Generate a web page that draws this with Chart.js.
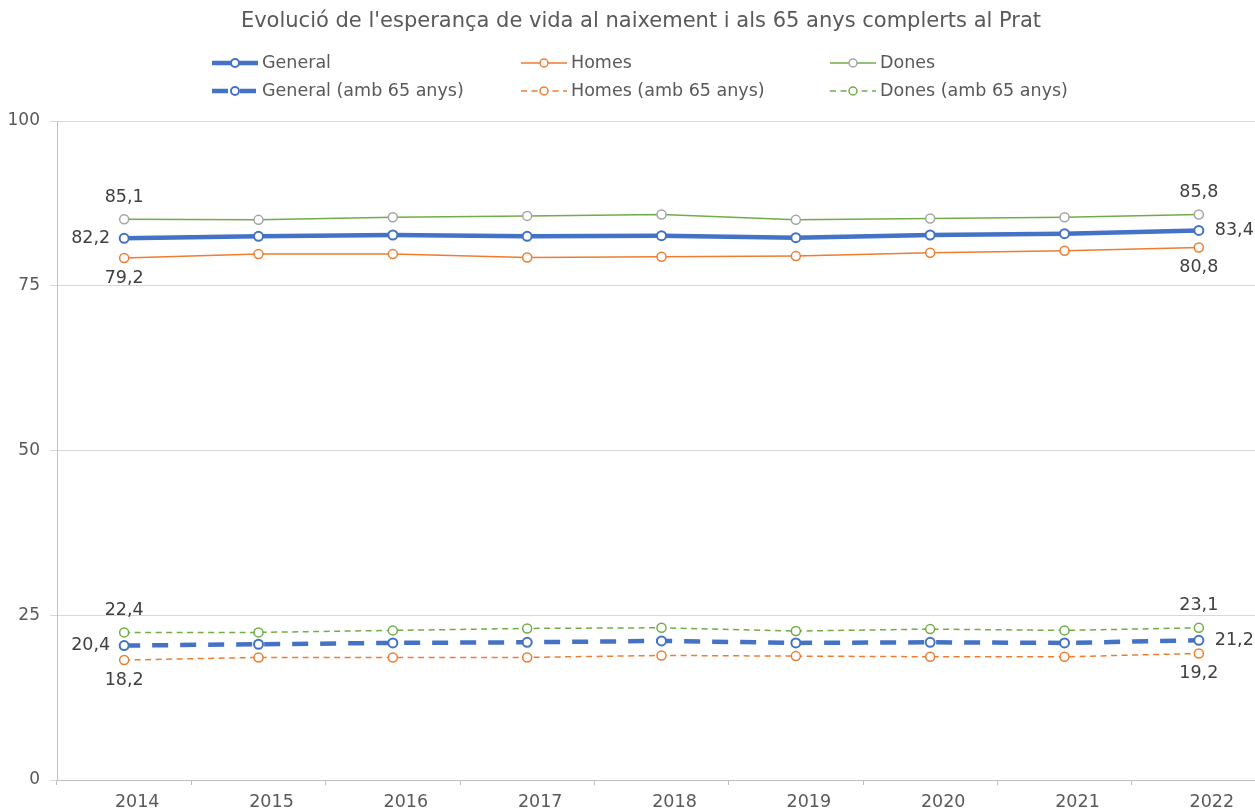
<!DOCTYPE html>
<html>
<head>
<meta charset="utf-8">
<script src="https://cdn.jsdelivr.net/npm/chart.js@4/dist/chart.umd.min.js"></script>
<style>
  html, body { margin: 0; padding: 0; background: #fff; overflow: hidden; }
  #wrap { width: 1282px; height: 812px; }
</style>
</head>
<body>
<div id="wrap"><canvas id="vidaChart" width="1282" height="812"></canvas></div>
<script>
const chartTitle = "Evolució de l'esperança de vida al naixement i als 65 anys complerts al Prat";
const years = ['2014', '2015', '2016', '2017', '2018', '2019', '2020', '2021', '2022'];
const general = [82.2, 82.5, 82.7, 82.5, 82.6, 82.3, 82.7, 82.9, 83.4];
const homes = [79.2, 79.8, 79.8, 79.3, 79.4, 79.5, 80.0, 80.3, 80.8];
const dones = [85.1, 85.0, 85.4, 85.6, 85.8, 85.0, 85.2, 85.4, 85.8];
const general65 = [20.4, 20.6, 20.8, 20.9, 21.1, 20.8, 20.9, 20.8, 21.2];
const homes65 = [18.2, 18.6, 18.6, 18.6, 18.9, 18.8, 18.7, 18.7, 19.2];
const dones65 = [22.4, 22.4, 22.7, 23.0, 23.1, 22.6, 22.9, 22.7, 23.1];
const yTicks = [0, 25, 50, 75, 100];

const FONT = 'DejaVu Sans';
const TEXT = '#595959';
const BLUE = '#4472C4', ORANGE = '#ED7D31', GREEN = '#70AD47', GREY = '#A5A5A5';

function serie(label, data, color, markerColor, width, dash, labelPos) {
  return {
    label: label,
    data: data,
    borderColor: color,
    backgroundColor: color,
    borderWidth: width,
    borderDash: dash,
    pointRadius: 4.5,
    pointHoverRadius: 4.5,
    pointBackgroundColor: '#fff',
    pointBorderColor: markerColor,
    pointBorderWidth: width > 3 ? 2 : 1.5,
    tension: 0,
    labelPos: labelPos
  };
}

function fmt(v) {
  return v.toFixed(1).replace('.', ',');
}

// first/last value labels, placed like the original
const endLabels = {
  id: 'endLabels',
  afterDatasetsDraw(chart) {
    const ctx = chart.ctx;
    ctx.save();
    ctx.font = '17.5px ' + FONT;
    ctx.fillStyle = '#404040';
    chart.data.datasets.forEach((ds, i) => {
      const meta = chart.getDatasetMeta(i);
      [0, ds.data.length - 1].forEach(j => {
        const p = meta.data[j];
        const txt = fmt(ds.data[j]);
        ctx.textBaseline = 'middle';
        if (ds.labelPos === 'above') {
          ctx.textAlign = 'center';
          ctx.fillText(txt, p.x, p.y - 22);
        } else if (ds.labelPos === 'below') {
          ctx.textAlign = 'center';
          ctx.fillText(txt, p.x, p.y + 20);
        } else if (j === 0) {
          ctx.textAlign = 'right';
          ctx.fillText(txt, p.x - 14, p.y);
        } else {
          ctx.textAlign = 'left';
          ctx.fillText(txt, p.x + 16, p.y);
        }
      });
    });
    ctx.restore();
  }
};

// title + three-column legend, two rows
const gridLegend = {
  id: 'gridLegend',
  afterDraw(chart) {
    const ctx = chart.ctx;
    const cols = [212, 521, 830];
    const rows = [63, 91];
    ctx.save();
    ctx.fillStyle = TEXT;
    ctx.font = '21px ' + FONT;
    ctx.textAlign = 'center';
    ctx.textBaseline = 'middle';
    ctx.fillText(chartTitle, chart.width / 2, 22);

    chart.data.datasets.forEach((ds, i) => {
      const x = cols[i % 3], y = rows[Math.floor(i / 3)];
      ctx.strokeStyle = ds.borderColor;
      ctx.lineWidth = ds.borderWidth;
      ctx.setLineDash(ds.borderDash || []);
      ctx.beginPath();
      ctx.moveTo(x, y);
      ctx.lineTo(x + 46, y);
      ctx.stroke();
      ctx.setLineDash([]);
      ctx.beginPath();
      ctx.arc(x + 23, y, 4, 0, Math.PI * 2);
      ctx.fillStyle = '#fff';
      ctx.fill();
      ctx.lineWidth = ds.pointBorderWidth;
      ctx.strokeStyle = ds.pointBorderColor;
      ctx.stroke();
      ctx.fillStyle = TEXT;
      ctx.font = '17.5px ' + FONT;
      ctx.textAlign = 'left';
      ctx.textBaseline = 'middle';
      ctx.fillText(ds.label, x + 50, y);
    });
    ctx.restore();
  }
};

new Chart(document.getElementById('vidaChart'), {
  type: 'line',
  data: {
    labels: years,
    datasets: [
      serie('General', general, BLUE, BLUE, 4.5, [], 'side'),
      serie('Homes', homes, ORANGE, ORANGE, 1.5, [], 'below'),
      serie('Dones', dones, GREEN, GREY, 1.5, [], 'above'),
      serie('General (amb 65 anys)', general65, BLUE, BLUE, 4.5, [16, 12], 'side'),
      serie('Homes (amb 65 anys)', homes65, ORANGE, ORANGE, 1.5, [6, 4.5], 'below'),
      serie('Dones (amb 65 anys)', dones65, GREEN, GREEN, 1.5, [6, 4.5], 'above')
    ]
  },
  options: {
    responsive: false,
    animation: false,
    devicePixelRatio: 1,
    layout: { padding: { top: 121, right: 16, left: 0, bottom: 0 } },
    plugins: {
      legend: { display: false },
      tooltip: { enabled: false },
      title: { display: false }
    },
    scales: {
      x: {
        offset: true,
        grid: { offset: true, drawOnChartArea: false, color: '#bfbfbf', tickLength: 5 },
        border: { color: '#bfbfbf', width: 1 },
        ticks: { color: TEXT, font: { family: FONT, size: 17.5 }, padding: 7, labelOffset: 13, maxRotation: 0 },
        afterFit(scale) { scale.height = 32; }
      },
      y: {
        min: 0,
        max: 100,
        afterBuildTicks(scale) { scale.ticks = yTicks.map(v => ({ value: v })); },
        grid: { color: '#d9d9d9', tickLength: 7 },
        border: { color: '#bfbfbf', width: 1 },
        ticks: { color: TEXT, font: { family: FONT, size: 17 }, padding: 10 },
        afterFit(scale) { scale.width = 57; }
      }
    }
  },
  plugins: [endLabels, gridLegend]
});
</script>
</body>
</html>
